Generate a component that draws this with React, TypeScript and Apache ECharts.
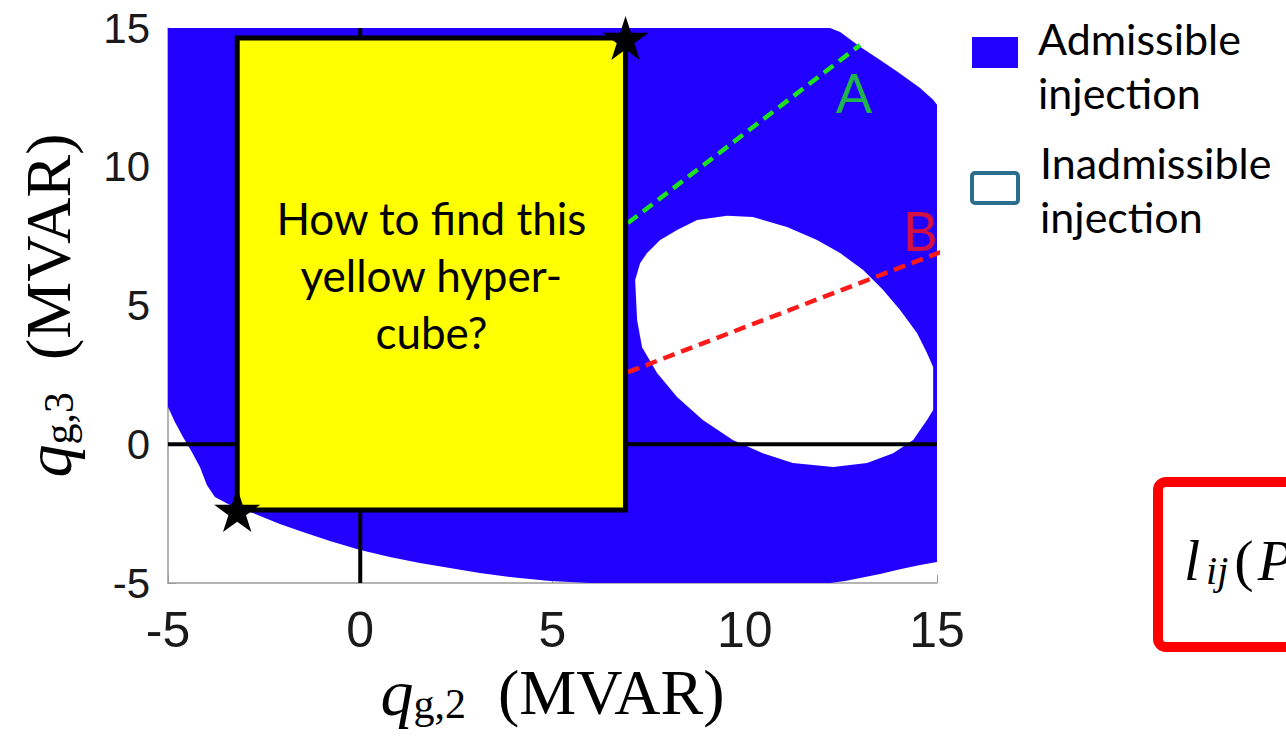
import React, { useEffect, useRef } from "react";
import * as echarts from "echarts";

// Axis ranges (MVAR)
const X_MIN = -5;
const X_MAX = 15;
const Y_MIN = -5;
const Y_MAX = 15;
const TICK_STEP = 5;

// Outer boundary of the admissible injection region, [q_g2, q_g3], clockwise from top-left
const admissibleBoundary: number[][] = [
  [-5, 15], [12.22, 15], [12.48, 14.86], [13.0, 14.32], [13.52, 13.85],
  [14.0, 13.4], [14.56, 12.84], [14.9, 12.41], [15, 12.23],
  [15, -4.24], [14.56, -4.35], [14.04, -4.5], [13.52, -4.68], [13.0, -4.82],
  [12.61, -4.93], [12.22, -5], [5.98, -5],
  [4.93, -4.93], [3.89, -4.78], [3.11, -4.64], [2.33, -4.46], [1.55, -4.28],
  [0.77, -4.06], [0, -3.81], [-0.79, -3.49], [-1.57, -3.13], [-2.09, -2.87],
  [-2.79, -2.48], [-3.39, -2.19], [-3.78, -1.9], [-3.99, -1.47], [-4.17, -0.82],
  [-4.38, -0.28], [-4.61, 0.26], [-4.82, 0.8], [-5, 1.34],
];

// Inadmissible pocket inside the region
const inadmissibleHole: number[][] = [
  [8.76, 8.08], [9.54, 8.23], [10.21, 8.19], [11.1, 7.83], [11.88, 7.36],
  [12.48, 6.89], [13.08, 6.28], [13.6, 5.56], [14.04, 4.84], [14.48, 4.01],
  [14.74, 3.29], [14.9, 2.78], [14.9, 1.23], [14.74, 0.87], [14.38, 0.15],
  [13.86, -0.32], [13.18, -0.68], [12.3, -0.82], [11.25, -0.68], [10.47, -0.32],
  [9.69, 0.15], [8.91, 0.87], [8.24, 1.7], [7.72, 2.57], [7.33, 3.5],
  [7.2, 4.48], [7.15, 5.92], [7.28, 6.53], [7.46, 6.89], [7.8, 7.36], [8.24, 7.72],
];

// Yellow hyper-cube: opposite corners
const cubeCorners: number[][] = [[-3.2, -2.37], [6.9, 14.64]];
const cubeQuestion = "How to find this\nyellow hyper-\ncube?";

// Search directions
const directionA: number[][] = [[6.96, 7.97], [13.0, 14.39]];
const directionB: number[][] = [[6.96, 2.6], [15.1, 6.93]];
const directionLabels = [
  { name: "A", value: [12.84, 12.69], color: "#1fe21f" },
  { name: "B", value: [14.56, 7.72], color: "#ff1414" },
];

// Coordinate axes through the origin
const zeroVertical: number[][] = [[0, Y_MIN], [0, Y_MAX]];
const zeroHorizontal: number[][] = [[X_MIN, 0], [X_MAX, 0]];

const BLUE = "#2200ff";
const SERIF = "'Liberation Serif', 'DejaVu Serif', serif";
const SANS = "'Liberation Sans', Arial, sans-serif";
const TEXT_FONT = "Lato, 'Open Sans', sans-serif";

const starPath = (() => {
  const pts: string[] = [];
  for (let i = 0; i < 10; i++) {
    const r = i % 2 === 0 ? 1 : 0.382;
    const a = -Math.PI / 2 + (i * Math.PI) / 5;
    pts.push(`${(Math.cos(a) * r).toFixed(4)},${(Math.sin(a) * r).toFixed(4)}`);
  }
  return "path://M" + pts.join("L") + "Z";
})();

function axisTitle(sub: string) {
  return `{q|q}{s|${sub}}{n|  (MVAR)}`;
}

const titleRich = {
  q: { fontFamily: SERIF, fontStyle: "italic", fontSize: 66, lineHeight: 64, color: "#000" },
  s: { fontFamily: SERIF, fontSize: 42, lineHeight: 22, verticalAlign: "bottom", color: "#000" },
  n: { fontFamily: SERIF, fontSize: 64, lineHeight: 64, color: "#000" },
};

export default function App() {
  const ref = useRef<HTMLDivElement>(null);

  useEffect(() => {
    document.body.style.margin = "0";
    if (!ref.current) return;
    const chart = echarts.init(ref.current, undefined, { renderer: "svg" });

    const polygonSeries = (points: number[][], fill: string, z: number) => ({
      type: "custom",
      coordinateSystem: "cartesian2d",
      data: [[points[0][0], points[0][1]]],
      clip: false,
      silent: true,
      z,
      renderItem: (_p: any, api: any) => ({
        type: "polygon",
        shape: { points: points.map((pt) => api.coord(pt)) },
        style: { fill },
      }),
    });

    const solidLine = (data: number[][]) => ({
      type: "line",
      data,
      symbol: "none",
      silent: true,
      z: 3,
      lineStyle: { color: "#000", width: 4 },
    });

    const dashedLine = (data: number[][], color: string) => ({
      type: "line",
      data,
      symbol: "none",
      silent: true,
      z: 3,
      lineStyle: { color, width: 4.5, type: [12, 7] },
    });

    chart.setOption({
      animation: false,
      backgroundColor: "#fff",
      grid: { left: 168, top: 28, width: 769, height: 555, containLabel: false },
      xAxis: {
        type: "value",
        min: X_MIN,
        max: X_MAX,
        interval: TICK_STEP,
        splitLine: { show: false },
        axisLine: { show: true, onZero: false, lineStyle: { color: "#9a9a9a", width: 1.5 } },
        axisTick: { show: true, inside: true, length: 8, lineStyle: { color: "#9a9a9a" } },
        axisLabel: { fontFamily: SANS, fontSize: 50, color: "#1a1a1a", margin: 22 },
        name: axisTitle("g,2"),
        nameLocation: "middle",
        nameGap: 72,
        nameTextStyle: { rich: titleRich },
      },
      yAxis: {
        type: "value",
        min: Y_MIN,
        max: Y_MAX,
        interval: TICK_STEP,
        splitLine: { show: false },
        axisLine: { show: true, onZero: false, lineStyle: { color: "#9a9a9a", width: 1.5 } },
        axisTick: { show: true, inside: true, length: 8, lineStyle: { color: "#9a9a9a" } },
        axisLabel: { fontFamily: SANS, fontSize: 42, color: "#1a1a1a", margin: 18 },
        name: axisTitle("g,3"),
        nameLocation: "middle",
        nameGap: 88,
        nameTextStyle: { rich: titleRich },
      },
      series: [
        polygonSeries(admissibleBoundary, BLUE, 1),
        polygonSeries(inadmissibleHole, "#ffffff", 2),
        solidLine(zeroVertical),
        solidLine(zeroHorizontal),
        dashedLine(directionA, "#1fe21f"),
        dashedLine(directionB, "#ff1a1a"),
        {
          type: "custom",
          coordinateSystem: "cartesian2d",
          data: [cubeCorners[0]],
          clip: false,
          silent: true,
          z: 4,
          renderItem: (_p: any, api: any) => {
            const tl = api.coord([cubeCorners[0][0], cubeCorners[1][1]]);
            const br = api.coord([cubeCorners[1][0], cubeCorners[0][1]]);
            return {
              type: "group",
              children: [
                {
                  type: "rect",
                  shape: { x: tl[0], y: tl[1], width: br[0] - tl[0], height: br[1] - tl[1] },
                  style: { fill: "#ffff00", stroke: "#000", lineWidth: 5 },
                },
                {
                  type: "text",
                  x: (tl[0] + br[0]) / 2,
                  y: (tl[1] + br[1]) / 2 + 1,
                  style: {
                    text: cubeQuestion,
                    fontFamily: TEXT_FONT,
                    fontSize: 44,
                    lineHeight: 57,
                    fill: "#000",
                    align: "center",
                    verticalAlign: "middle",
                  },
                },
              ],
            };
          },
        },
        {
          type: "scatter",
          data: cubeCorners,
          symbol: starPath,
          symbolSize: [46, 44],
          itemStyle: { color: "#000", opacity: 1 },
          silent: true,
          z: 5,
        },
        {
          type: "scatter",
          data: directionLabels.map((d) => ({
            name: d.name,
            value: d.value,
            label: { color: d.color },
          })),
          symbolSize: 1,
          itemStyle: { color: "rgba(0,0,0,0)" },
          silent: true,
          z: 5,
          label: {
            show: true,
            position: "inside",
            formatter: (p: any) => p.name,
            fontFamily: TEXT_FONT,
            fontSize: 54,
          },
        },
      ],
      graphic: [
        {
          type: "rect",
          shape: { x: 972, y: 37, width: 46, height: 31 },
          style: { fill: BLUE },
        },
        {
          type: "text",
          x: 1038,
          y: 11,
          style: {
            text: "Admissible\ninjection",
            fontFamily: TEXT_FONT,
            fontSize: 43,
            lineHeight: 54,
            fill: "#000",
            align: "left",
            verticalAlign: "top",
          },
        },
        {
          type: "rect",
          shape: { x: 972, y: 173, width: 46, height: 30, r: 3 },
          style: { fill: "#fff", stroke: "#2a6f8f", lineWidth: 4 },
        },
        {
          type: "text",
          x: 1040,
          y: 135,
          style: {
            text: "Inadmissible\ninjection",
            fontFamily: TEXT_FONT,
            fontSize: 43,
            lineHeight: 54,
            fill: "#000",
            align: "left",
            verticalAlign: "top",
          },
        },
        {
          type: "rect",
          shape: { x: 1158, y: 482, width: 300, height: 165, r: 8 },
          style: { fill: "#fff", stroke: "#ff0000", lineWidth: 10 },
        },
        {
          type: "text",
          x: 1184,
          y: 560,
          style: {
            text: "{l|l}{ij|ij}{p|(}{P|P}",
            align: "left",
            verticalAlign: "middle",
            rich: {
              l: { fontFamily: SERIF, fontStyle: "italic", fontSize: 58, lineHeight: 60, padding: [0, 4, 0, 0], fill: "#000" },
              ij: { fontFamily: SERIF, fontStyle: "italic", fontSize: 40, lineHeight: 22, verticalAlign: "bottom", padding: [0, 6, 0, 2], fill: "#000" },
              p: { fontFamily: SERIF, fontSize: 58, lineHeight: 60, padding: [0, 4, 0, 0], fill: "#000" },
              P: { fontFamily: SERIF, fontStyle: "italic", fontSize: 58, lineHeight: 60, fill: "#000" },
            },
          },
        },
      ],
    });

    return () => chart.dispose();
  }, []);

  return <div ref={ref} style={{ width: 1286, height: 736 }} />;
}
